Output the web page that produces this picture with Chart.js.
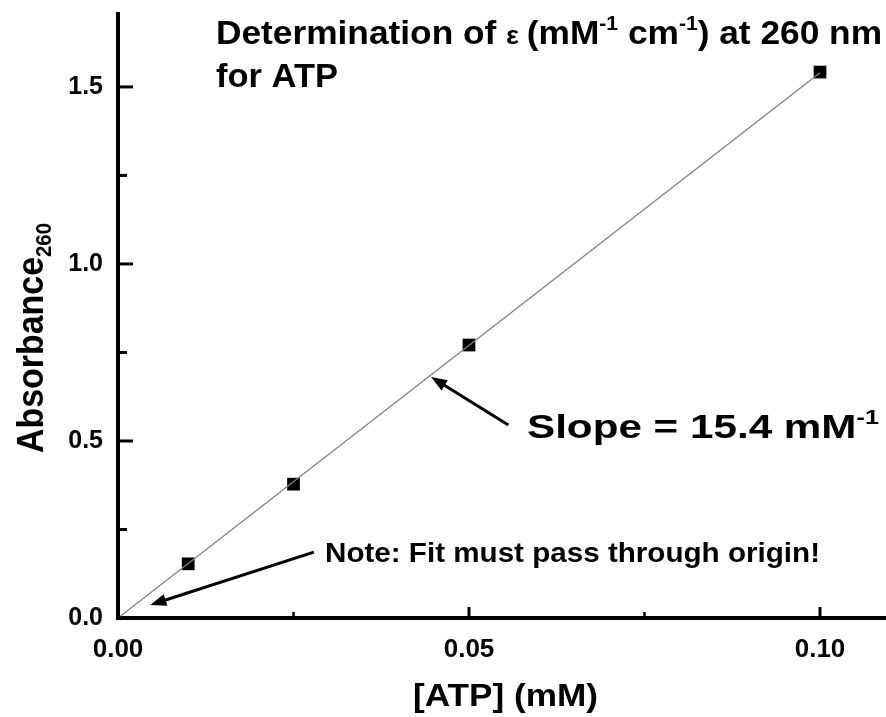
<!DOCTYPE html>
<html>
<head>
<meta charset="utf-8">
<script src="https://cdn.jsdelivr.net/npm/chart.js@4.4.1/dist/chart.umd.min.js"></script>
<style>
  html, body { margin: 0; padding: 0; background: #fff; }
  #wrap { width: 886px; height: 717px; }
</style>
</head>
<body>
<div id="wrap"><canvas id="myChart"></canvas></div>
<script>
// data
const atpConc = [0.01, 0.025, 0.05, 0.10];
const absorbance = [0.153, 0.378, 0.771, 1.542];
const fitX = [0, 0.10];
const fitY = [0, 1.54];
const xTickLabels = [0, 0.05, 0.10];
const yTickLabels = [0, 0.5, 1.0, 1.5];

// arrows, in data units: [tailX, tailY, tipX, tipY]
const slopeArrow = [0.0556, 0.545, 0.0446, 0.681];
const originArrow = [0.0279, 0.186, 0.0046, 0.037];

const FONT = "'Liberation Sans', Arial, sans-serif";

function partSize(p, size) {
    if (p[1] === 'small') return size * 0.78;
    return p[1] ? size * 0.6 : size;
}

// draw bold text with superscript / subscript pieces, squeezed to a width
function richText(ctx, parts, x, y, size, width) {
    ctx.save();
    let total = 0;
    parts.forEach(function (p) {
        ctx.font = 'bold ' + partSize(p, size) + 'px ' + FONT;
        total += ctx.measureText(p[0]).width;
    });
    ctx.translate(x, y);
    ctx.scale(width ? width / total : 1, 1);
    ctx.fillStyle = '#000';
    ctx.textBaseline = 'alphabetic';
    let cx = 0;
    parts.forEach(function (p) {
        ctx.font = 'bold ' + partSize(p, size) + 'px ' + FONT;
        let dy = 0;
        if (p[1] === 'sup') dy = -size * 0.42;
        if (p[1] === 'sub') dy = size * 0.22;
        ctx.fillText(p[0], cx, dy);
        cx += ctx.measureText(p[0]).width;
    });
    ctx.restore();
}

function arrow(ctx, xs, ys, a) {
    const x1 = xs.getPixelForValue(a[0]), y1 = ys.getPixelForValue(a[1]);
    const x2 = xs.getPixelForValue(a[2]), y2 = ys.getPixelForValue(a[3]);
    const ang = Math.atan2(y2 - y1, x2 - x1);
    const hl = 16, hw = 6;
    ctx.save();
    ctx.strokeStyle = '#000';
    ctx.fillStyle = '#000';
    ctx.lineWidth = 3;
    ctx.beginPath();
    ctx.moveTo(x1, y1);
    ctx.lineTo(x2 - Math.cos(ang) * hl * 0.8, y2 - Math.sin(ang) * hl * 0.8);
    ctx.stroke();
    ctx.beginPath();
    ctx.moveTo(x2, y2);
    ctx.lineTo(x2 - Math.cos(ang) * hl - Math.sin(ang) * hw, y2 - Math.sin(ang) * hl + Math.cos(ang) * hw);
    ctx.lineTo(x2 - Math.cos(ang) * hl + Math.sin(ang) * hw, y2 - Math.sin(ang) * hl - Math.cos(ang) * hw);
    ctx.closePath();
    ctx.fill();
    ctx.restore();
}

const decorations = {
    id: 'decorations',
    afterDraw: function (chart) {
        const ctx = chart.ctx;
        const xs = chart.scales.x, ys = chart.scales.y;
        const area = chart.chartArea;

        // inward ticks
        ctx.save();
        ctx.strokeStyle = '#000';
        xs.ticks.forEach(function (t) {
            const major = xTickLabels.some(v => Math.abs(v - t.value) < 1e-9);
            const px = xs.getPixelForValue(t.value);
            ctx.lineWidth = major ? 3 : 2.5;
            ctx.beginPath();
            ctx.moveTo(px, area.bottom);
            ctx.lineTo(px, area.bottom - (major ? 11 : 6));
            ctx.stroke();
        });
        ys.ticks.forEach(function (t) {
            const major = yTickLabels.some(v => Math.abs(v - t.value) < 1e-9);
            const py = ys.getPixelForValue(t.value);
            ctx.lineWidth = 3;
            ctx.beginPath();
            ctx.moveTo(area.left, py);
            ctx.lineTo(area.left + (major ? 15 : 9), py);
            ctx.stroke();
        });
        ctx.restore();

        arrow(ctx, xs, ys, slopeArrow);
        arrow(ctx, xs, ys, originArrow);

        richText(ctx, [['Determination of '], ['\u03b5 ', 'small'], ['(mM'], ['-1', 'sup'], [' cm'], ['-1', 'sup'], [') at 260 nm']], 216, 44, 33, 666);
        richText(ctx, [['for ATP']], 216, 87, 33, 122);
        richText(ctx, [['Slope = 15.4 mM'], ['-1', 'sup']], 527, 438, 34, 352);
        richText(ctx, [['Note: Fit must pass through origin!']], 325, 562, 28, 495);
        richText(ctx, [['[ATP] (mM)']], 413, 706, 32, 185);

        // rotated y title
        ctx.save();
        ctx.translate(43, 453);
        ctx.rotate(-Math.PI / 2);
        richText(ctx, [['Absorbance'], ['260', 'sub']], 0, 0, 37, 230);
        ctx.restore();
    }
};

const ctx = document.getElementById('myChart').getContext('2d');

const myChart = new Chart(ctx, {
    type: 'scatter',
    data: {
        datasets: [{
            label: 'fit',
            type: 'line',
            data: fitX.map((x, i) => ({ x: x, y: fitY[i] })),
            borderColor: '#808080',
            borderWidth: 1.3,
            pointRadius: 0,
            fill: false
        }, {
            label: 'ATP',
            data: atpConc.map((x, i) => ({ x: x, y: absorbance[i] })),
            pointStyle: 'rect',
            pointRadius: 9,
            borderWidth: 0,
            backgroundColor: '#000',
            borderColor: '#000'
        }]
    },
    options: {
        responsive: true,
        maintainAspectRatio: false,
        animation: false,
        layout: { autoPadding: false, padding: { left: 0, right: 0, top: 14, bottom: 0 } },
        plugins: {
            legend: { display: false },
            tooltip: { enabled: false }
        },
        scales: {
            x: {
                type: 'linear',
                min: 0,
                max: 0.1094,
                grid: { display: false, drawTicks: false },
                border: { display: true, color: '#000', width: 4 },
                ticks: {
                    stepSize: 0.025,
                    includeBounds: false,
                    autoSkip: false,
                    maxRotation: 0,
                    padding: 16,
                    color: '#000',
                    font: { family: FONT, size: 26, weight: 'bold' },
                    callback: function (v) {
                        return xTickLabels.some(t => Math.abs(t - v) < 1e-9) ? v.toFixed(2) : '';
                    }
                },
                afterFit: function (scale) {
                    scale.height = 99;
                    scale.paddingLeft = 0;
                    scale.paddingRight = 0;
                }
            },
            y: {
                type: 'linear',
                min: 0,
                max: 1.706,
                grid: { display: false, drawTicks: false },
                border: { display: true, color: '#000', width: 4 },
                ticks: {
                    stepSize: 0.25,
                    includeBounds: false,
                    autoSkip: false,
                    padding: 15,
                    color: '#000',
                    font: { family: FONT, size: 25, weight: 'bold' },
                    callback: function (v) {
                        return yTickLabels.some(t => Math.abs(t - v) < 1e-9) ? v.toFixed(1) : '';
                    }
                },
                afterFit: function (scale) {
                    scale.width = 118;
                    scale.paddingTop = 0;
                    scale.paddingBottom = 0;
                }
            }
        }
    },
    plugins: [decorations]
});
</script>
</body>
</html>
